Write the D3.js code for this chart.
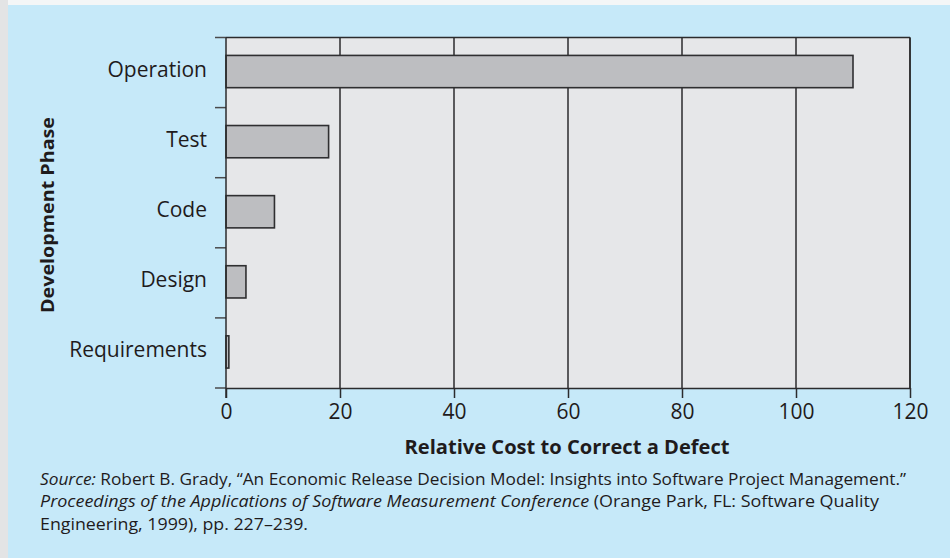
<!DOCTYPE html>
<html>
<head>
<meta charset="utf-8">
<script src="https://cdn.jsdelivr.net/npm/d3@7"></script>
<style>
    body { margin: 0; background: #ffffff; }
    svg { display: block; font-family: "Open Sans", "Noto Sans", sans-serif; }
</style>
</head>
<body>
<div id="chart"></div>
<script>
// data
const phases = ["Operation", "Test", "Code", "Design", "Requirements"];
const costs = [110, 18, 8.5, 3.5, 0.5];
const xTicks = [0, 20, 40, 60, 80, 100, 120];

const xTitle = "Relative Cost to Correct a Defect";
const yTitle = "Development Phase";
const sourceLines = [
    [["Source:", true], [" Robert B. Grady, \u201cAn Economic Release Decision Model: Insights into Software Project Management.\u201d", false]],
    [["Proceedings of the Applications of Software Measurement Conference", true], [" (Orange Park, FL: Software Quality", false]],
    [["Engineering, 1999), pp. 227\u2013239.", false]]
];
const sourceWidths = [866, 839, 268];

const W = 950, H = 558;
const margin = { top: 37.5, right: 40, bottom: 170, left: 226 };
const width = 910 - margin.left;
const height = 388 - margin.top;

const svg = d3.select("#chart").append("svg")
    .attr("width", W)
    .attr("height", H);

// page background: grey strip on the left, blue panel
svg.append("rect").attr("width", W).attr("height", H).attr("fill", "#f4f6f7");
svg.append("rect").attr("x", 0).attr("y", 0).attr("width", 8).attr("height", H).attr("fill", "#e3e4e5");
svg.append("rect").attr("x", 8).attr("y", 5).attr("width", W - 8).attr("height", H - 5).attr("fill", "#c6e9f9");

const g = svg.append("g")
    .attr("transform", "translate(" + margin.left + "," + margin.top + ")");

const x = d3.scaleLinear()
    .domain([0, 120])
    .range([0, width]);

const y = d3.scaleBand()
    .domain(phases)
    .range([0, height])
    .padding(0);

// plot background
g.append("rect")
    .attr("width", width)
    .attr("height", height)
    .attr("fill", "#e6e7e9");

// vertical grid lines
g.selectAll(".grid")
    .data(xTicks.slice(1))
    .enter().append("line")
    .attr("class", "grid")
    .attr("x1", d => x(d))
    .attr("x2", d => x(d))
    .attr("y1", 0)
    .attr("y2", height)
    .attr("stroke", "#2b2b2d")
    .attr("stroke-width", 1.5);

// top border
g.append("line")
    .attr("x1", 0).attr("x2", width)
    .attr("y1", 0).attr("y2", 0)
    .attr("stroke", "#2b2b2d")
    .attr("stroke-width", 1.5);

// bars
const barH = y.bandwidth() * 0.46;
g.selectAll(".bar")
    .data(costs)
    .enter().append("rect")
    .attr("class", "bar")
    .attr("x", 0)
    .attr("y", (d, i) => y(phases[i]) + (y.bandwidth() - barH) / 2 - 1)
    .attr("width", d => x(d))
    .attr("height", barH)
    .attr("fill", "#bdbec1")
    .attr("stroke", "#2f2f31")
    .attr("stroke-width", 1.6);

// x axis
const xAxis = d3.axisBottom(x)
    .tickValues(xTicks)
    .tickSize(10)
    .tickSizeOuter(0)
    .tickPadding(6);

const xg = g.append("g")
    .attr("transform", "translate(0," + height + ")")
    .call(xAxis);
xg.select(".domain").attr("stroke", "#2b2b2d").attr("stroke-width", 1.5);
xg.selectAll(".tick line").attr("stroke", "#2b2b2d").attr("stroke-width", 1.5);
xg.selectAll(".tick text")
    .attr("fill", "#1f1b1c")
    .style("font-size", "21px")
    .style("font-family", "'Open Sans', sans-serif");

// y axis: ticks on band boundaries, labels at band centres
const yBounds = d3.range(phases.length + 1).map(i => i * y.step());
g.selectAll(".ytick")
    .data(yBounds)
    .enter().append("line")
    .attr("class", "ytick")
    .attr("x1", -11).attr("x2", 0)
    .attr("y1", d => d).attr("y2", d => d)
    .attr("stroke", "#4a4a4c")
    .attr("stroke-width", 1.5);

g.append("line")
    .attr("x1", 0).attr("x2", 0)
    .attr("y1", 0).attr("y2", height + 10)
    .attr("stroke", "#2b2b2d")
    .attr("stroke-width", 1.5);

g.selectAll(".ylabel")
    .data(phases)
    .enter().append("text")
    .attr("class", "ylabel")
    .attr("x", -19)
    .attr("y", d => y(d) + y.bandwidth() / 2 - 3)
    .attr("dy", "0.35em")
    .attr("text-anchor", "end")
    .attr("fill", "#1f1b1c")
    .style("font-size", "21px")
    .text(d => d);

// right border
g.append("line")
    .attr("x1", width).attr("x2", width)
    .attr("y1", 0).attr("y2", height)
    .attr("stroke", "#2b2b2d")
    .attr("stroke-width", 1.5);

// axis titles
svg.append("text")
    .attr("x", 567)
    .attr("y", 454)
    .attr("text-anchor", "middle")
    .attr("fill", "#1f1b1c")
    .style("font-size", "19px")
    .style("font-weight", "bold")
    .attr("textLength", 325)
    .attr("lengthAdjust", "spacingAndGlyphs")
    .text(xTitle);

svg.append("text")
    .attr("transform", "translate(54,215) rotate(-90)")
    .attr("text-anchor", "middle")
    .attr("fill", "#1f1b1c")
    .style("font-size", "18px")
    .style("font-weight", "bold")
    .attr("textLength", 196)
    .attr("lengthAdjust", "spacingAndGlyphs")
    .text(yTitle);

// source note
sourceLines.forEach(function(parts, i) {
    const t = svg.append("text")
        .attr("x", 40)
        .attr("y", 485 + i * 22.3)
        .attr("fill", "#1f1b1c")
        .style("font-size", "16px")
        .attr("textLength", sourceWidths[i])
        .attr("lengthAdjust", "spacingAndGlyphs");
    parts.forEach(function(p) {
        t.append("tspan")
            .style("font-style", p[1] ? "italic" : "normal")
            .text(p[0]);
    });
});
</script>
</body>
</html>
